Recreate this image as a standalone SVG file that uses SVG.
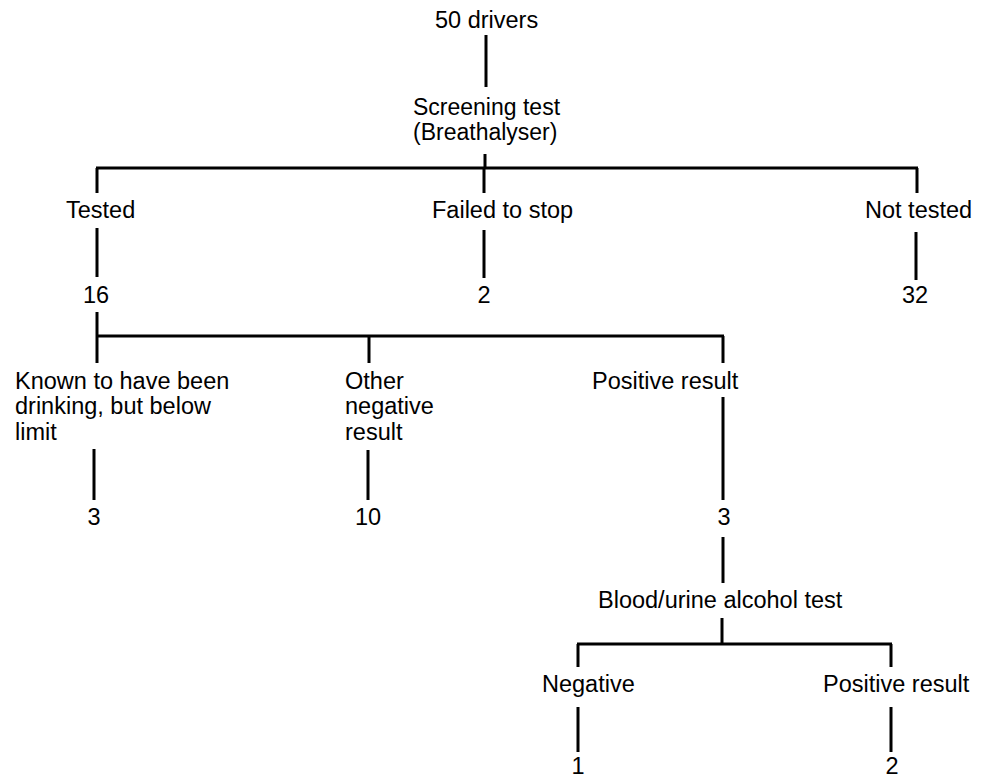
<svg xmlns="http://www.w3.org/2000/svg" width="986" height="779" viewBox="0 0 986 779">
<style>
  text { font-family: "Liberation Sans", Arial, sans-serif; font-size: 23.5px; fill: #000; }
  .c { stroke: #000; stroke-width: 3; fill: none; stroke-linecap: butt; }
</style>
<rect width="986" height="779" fill="#fff"/>
<g id="connectors">
  <path class="c" d="M486 35V87"/>
  <path class="c" d="M485 154V168"/>
  <path class="c" d="M96 168H918"/>
  <path class="c" d="M97 168V193M484 168V193M917 168V193"/>
  <path class="c" d="M97 228V277M484 230V278M916 232V280"/>
  <path class="c" d="M97 312V363"/>
  <path class="c" d="M96 336H724"/>
  <path class="c" d="M369 336V363M723 336V363"/>
  <path class="c" d="M94 449V500M368 450V500M723 397V500"/>
  <path class="c" d="M723 537V583"/>
  <path class="c" d="M722 618V644"/>
  <path class="c" d="M577 644H892"/>
  <path class="c" d="M578 644V667M891 644V667"/>
  <path class="c" d="M578 707V752M891 707V752"/>
</g>
<g id="n-drivers"><text x="435" y="28">50 drivers</text></g>
<g id="n-screening"><text x="413" y="115" style="font-size:23px">Screening test<tspan x="413" y="140">(Breathalyser)</tspan></text></g>
<g id="n-tested"><text x="66" y="218">Tested</text></g>
<g id="n-failed"><text x="432" y="218">Failed to stop</text></g>
<g id="n-nottested"><text x="865" y="218">Not tested</text></g>
<g id="n-16"><text x="96" y="303" text-anchor="middle">16</text></g>
<g id="n-2a"><text x="484" y="303" text-anchor="middle">2</text></g>
<g id="n-32"><text x="915" y="303" text-anchor="middle">32</text></g>
<g id="n-known"><text x="15" y="389">Known to have been<tspan x="15" y="414">drinking, but below</tspan><tspan x="15" y="440">limit</tspan></text></g>
<g id="n-other"><text x="345" y="389">Other<tspan x="345" y="414">negative</tspan><tspan x="345" y="440">result</tspan></text></g>
<g id="n-positive1"><text x="592" y="389">Positive result</text></g>
<g id="n-3a"><text x="94" y="525" text-anchor="middle">3</text></g>
<g id="n-10"><text x="368" y="525" text-anchor="middle">10</text></g>
<g id="n-3b"><text x="724" y="525" text-anchor="middle">3</text></g>
<g id="n-blood"><text x="598" y="608">Blood/urine alcohol test</text></g>
<g id="n-negative"><text x="542" y="692">Negative</text></g>
<g id="n-positive2"><text x="823" y="692">Positive result</text></g>
<g id="n-1"><text x="578" y="774" text-anchor="middle">1</text></g>
<g id="n-2b"><text x="892" y="774" text-anchor="middle">2</text></g>
</svg>
